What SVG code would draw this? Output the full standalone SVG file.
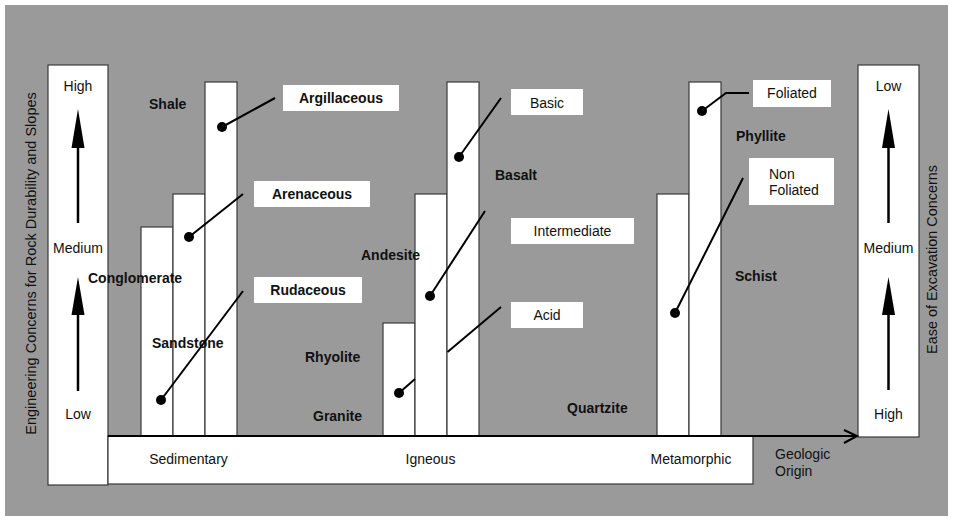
<svg xmlns="http://www.w3.org/2000/svg" width="953" height="521" viewBox="0 0 953 521">
  <defs>
    <style>
      .panel { fill: #ffffff; stroke: #3a3a3a; stroke-width: 1.2; }
      .bar { fill: #ffffff; stroke: #3a3a3a; stroke-width: 1.2; }
      .tag { fill: #ffffff; stroke: none; }
      .lead { stroke: #000; stroke-width: 2; fill: none; }
      .dot { fill: #000; }
      .t { font-family: "Liberation Sans", Arial, sans-serif; font-size: 14px; fill: #111; }
      .b { font-weight: bold; }
      .m { text-anchor: middle; }
      .arrow-shaft { stroke: #000; stroke-width: 2.5; }
      .arrow-head { fill: #000; }
    </style>
  </defs>

  <!-- backdrop -->
  <rect x="0" y="0" width="953" height="521" fill="#ffffff"/>
  <rect x="5" y="5" width="943" height="511" fill="#9a9a9a"/>

  <!-- left scale: engineering concerns -->
  <g id="left-scale">
    <rect class="panel" x="48" y="65" width="60" height="420"/>
    <text class="t m" x="78" y="91">High</text>
    <text class="t m" x="78" y="253">Medium</text>
    <text class="t m" x="78" y="419">Low</text>
    <line class="arrow-shaft" x1="78" y1="223" x2="78" y2="140"/>
    <polygon class="arrow-head" points="78,109 71.5,148 84.5,148"/>
    <line class="arrow-shaft" x1="78" y1="391" x2="78" y2="308"/>
    <polygon class="arrow-head" points="78,277 71.5,315 84.5,315"/>
    <text class="t m" transform="translate(36,263.5) rotate(-90)" style="font-size:14.5px">Engineering Concerns for Rock Durability and Slopes</text>
  </g>

  <!-- right scale: ease of excavation -->
  <g id="right-scale">
    <rect class="panel" x="858" y="65" width="61" height="372"/>
    <text class="t m" x="888.5" y="91">Low</text>
    <text class="t m" x="888.5" y="253">Medium</text>
    <text class="t m" x="888.5" y="419">High</text>
    <line class="arrow-shaft" x1="888.5" y1="223" x2="888.5" y2="140"/>
    <polygon class="arrow-head" points="888.5,109 882,148 895,148"/>
    <line class="arrow-shaft" x1="888.5" y1="390" x2="888.5" y2="307"/>
    <polygon class="arrow-head" points="888.5,277 882,315 895,315"/>
    <text class="t m" transform="translate(937,259.5) rotate(-90)" style="font-size:14.4px">Ease of Excavation Concerns</text>
  </g>

  <!-- origin band -->
  <g id="origin-band">
    <rect class="panel" x="108" y="436" width="645" height="48"/>
    <text class="t m" x="188.5" y="464">Sedimentary</text>
    <text class="t m" x="430.5" y="464">Igneous</text>
    <text class="t m" x="691" y="464">Metamorphic</text>
  </g>

  <!-- sedimentary column -->
  <g id="sedimentary">
    <rect class="bar" x="141" y="227" width="32" height="209"/>
    <rect class="bar" x="173" y="194" width="32" height="242"/>
    <rect class="bar" x="205" y="82" width="32" height="354"/>
    <text class="t b" x="149" y="109">Shale</text>
    <text class="t b" x="88" y="283">Conglomerate</text>
    <text class="t b" x="152" y="348">Sandstone</text>
  </g>

  <!-- igneous column -->
  <g id="igneous">
    <rect class="bar" x="383" y="323" width="32" height="113"/>
    <rect class="bar" x="415" y="194" width="32" height="242"/>
    <rect class="bar" x="447" y="82" width="32" height="354"/>
    <text class="t b" x="495" y="180">Basalt</text>
    <text class="t b" x="361" y="260">Andesite</text>
    <text class="t b" x="305" y="362">Rhyolite</text>
    <text class="t b" x="313" y="421">Granite</text>
  </g>

  <!-- metamorphic column -->
  <g id="metamorphic">
    <rect class="bar" x="657" y="194" width="32" height="242"/>
    <rect class="bar" x="689" y="82" width="32" height="354"/>
    <text class="t b" x="736" y="141">Phyllite</text>
    <text class="t b" x="735" y="281">Schist</text>
    <text class="t b" x="567" y="413">Quartzite</text>
  </g>

  <!-- group tags -->
  <g id="tag-argillaceous">
    <rect class="tag" x="283" y="85" width="116" height="26"/>
    <text class="t b m" x="341" y="103">Argillaceous</text>
  </g>
  <g id="tag-arenaceous">
    <rect class="tag" x="254" y="181" width="116" height="26"/>
    <text class="t b m" x="312" y="199">Arenaceous</text>
  </g>
  <g id="tag-rudaceous">
    <rect class="tag" x="254" y="277" width="108" height="26"/>
    <text class="t b m" x="308" y="295">Rudaceous</text>
  </g>
  <g id="tag-basic">
    <rect class="tag" x="511" y="89" width="72" height="26"/>
    <text class="t m" x="547" y="108">Basic</text>
  </g>
  <g id="tag-intermediate">
    <rect class="tag" x="511" y="218" width="123" height="26"/>
    <text class="t m" x="572.5" y="236">Intermediate</text>
  </g>
  <g id="tag-acid">
    <rect class="tag" x="511" y="302" width="72" height="26"/>
    <text class="t m" x="547" y="320">Acid</text>
  </g>
  <g id="tag-foliated">
    <rect class="tag" x="753" y="80" width="78" height="27"/>
    <text class="t m" x="792" y="98">Foliated</text>
  </g>
  <g id="tag-non-foliated">
    <rect class="tag" x="749" y="158" width="85" height="47"/>
    <text class="t" x="769" y="179">Non</text>
    <text class="t" x="769" y="195">Foliated</text>
  </g>

  <!-- leaders from tags to rock columns -->
  <g id="connectors">
    <line class="lead" x1="275" y1="98" x2="222" y2="127"/>
    <circle class="dot" cx="222" cy="127" r="5"/>
    <line class="lead" x1="243" y1="194" x2="189" y2="237"/>
    <circle class="dot" cx="189" cy="237" r="5"/>
    <line class="lead" x1="243" y1="291" x2="161" y2="400"/>
    <circle class="dot" cx="161" cy="400" r="5"/>

    <line class="lead" x1="501" y1="98" x2="459" y2="157"/>
    <circle class="dot" cx="459" cy="157" r="5"/>
    <line class="lead" x1="485" y1="211" x2="430" y2="296"/>
    <circle class="dot" cx="430" cy="296" r="5"/>
    <line class="lead" x1="501" y1="307" x2="447.5" y2="352"/>
    <line class="lead" x1="415" y1="379" x2="399" y2="393"/>
    <circle class="dot" cx="399" cy="393" r="5"/>

    <polyline class="lead" points="749,93 726,93 702,111"/>
    <circle class="dot" cx="702" cy="111" r="5"/>
    <line class="lead" x1="743" y1="178" x2="675" y2="313"/>
    <circle class="dot" cx="675" cy="313" r="5"/>

    <!-- geologic origin axis -->
    <line x1="108" y1="436" x2="857" y2="436" stroke="#000" stroke-width="2.2"/>
    <polyline points="844,430 857,436 844,443" fill="none" stroke="#000" stroke-width="2"/>
  </g>

  <g id="axis-label">
    <text class="t" x="775" y="459">Geologic</text>
    <text class="t" x="775" y="476">Origin</text>
  </g>
</svg>
